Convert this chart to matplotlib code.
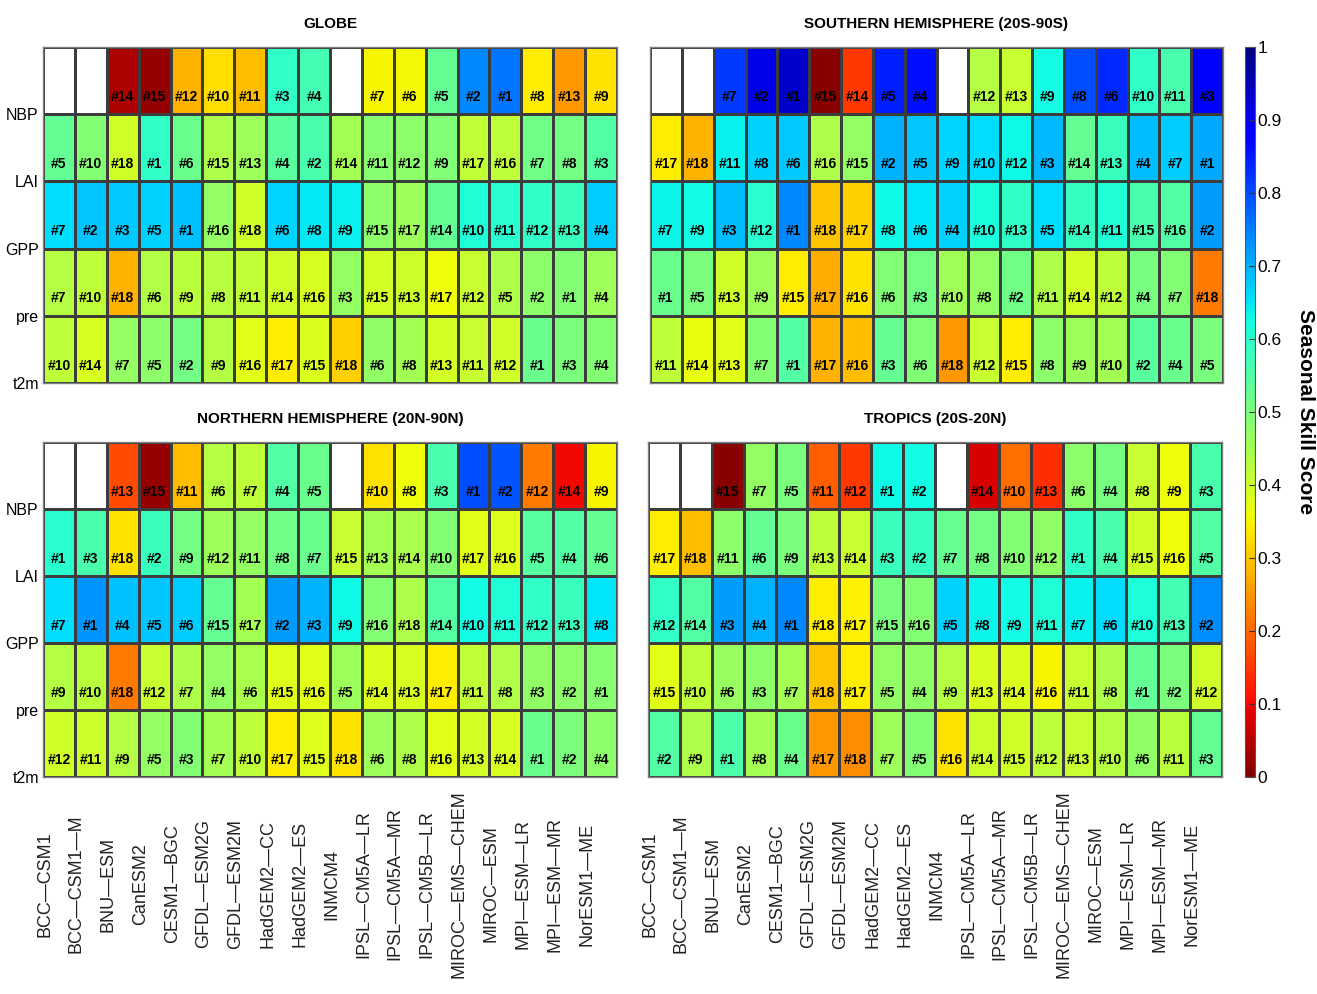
"""Seasonal skill score of CMIP5 ESMs by region and variable"""
import numpy as np
import matplotlib
matplotlib.use("Agg")
import matplotlib.pyplot as plt
from matplotlib.transforms import blended_transform_factory

plt.rcParams["font.family"] = ["Liberation Sans", "DejaVu Sans"]

MODELS = ["BCC-CSM1", "BCC-CSM1-M", "BNU-ESM", "CanESM2", "CESM1-BGC",
          "GFDL-ESM2G", "GFDL-ESM2M", "HadGEM2-CC", "HadGEM2-ES", "INMCM4",
          "IPSL-CM5A-LR", "IPSL-CM5A-MR", "IPSL-CM5B-LR", "MIROC-EMS-CHEM",
          "MIROC-ESM", "MPI-ESM-LR", "MPI-ESM-MR", "NorESM1-ME"]
VARS = ["NBP", "LAI", "GPP", "pre", "t2m"]
REGIONS = ["GLOBE", "SOUTHERN HEMISPHERE (20S-90S)",
           "NORTHERN HEMISPHERE (20N-90N)", "TROPICS (20S-20N)"]
nan = np.nan

# skill scores, rows = VARS, cols = MODELS
globe_score = [
    [nan, nan, .04, .02, .28, .325, .29, .59, .57, nan, .35, .355, .53, .74, .76, .34, .25, .33],
    [.53, .49, .40, .59, .52, .44, .46, .54, .56, .45, .485, .48, .495, .415, .42, .515, .51, .55],
    [.66, .68, .676, .67, .685, .47, .40, .665, .645, .64, .48, .46, .53, .61, .60, .59, .58, .672],
    [.43, .42, .28, .435, .425, .428, .415, .40, .39, .47, .395, .405, .36, .41, .44, .48, .49, .46],
    [.42, .39, .47, .48, .51, .43, .375, .34, .385, .31, .475, .45, .395, .41, .40, .52, .50, .49],
]
globe_rank = [
    [0, 0, 14, 15, 12, 10, 11, 3, 4, 0, 7, 6, 5, 2, 1, 8, 13, 9],
    [5, 10, 18, 1, 6, 15, 13, 4, 2, 14, 11, 12, 9, 17, 16, 7, 8, 3],
    [7, 2, 3, 5, 1, 16, 18, 6, 8, 9, 15, 17, 14, 10, 11, 12, 13, 4],
    [7, 10, 18, 6, 9, 8, 11, 14, 16, 3, 15, 13, 17, 12, 5, 2, 1, 4],
    [10, 14, 7, 5, 2, 9, 16, 17, 15, 18, 6, 8, 13, 11, 12, 1, 3, 4],
]

sh_score = [
    [nan, nan, .82, .91, .93, .01, .15, .845, .86, nan, .43, .41, .625, .80, .835, .59, .56, .89],
    [.34, .28, .64, .67, .676, .44, .47, .70, .68, .665, .66, .63, .695, .53, .58, .69, .672, .71],
    [.635, .628, .69, .60, .74, .30, .31, .63, .65, .67, .62, .59, .66, .585, .61, .56, .55, .72],
    [.52, .50, .40, .46, .34, .27, .33, .495, .51, .455, .47, .515, .44, .395, .42, .505, .49, .22],
    [.42, .37, .375, .49, .55, .28, .29, .53, .495, .25, .41, .34, .48, .46, .45, .54, .52, .50],
]
sh_rank = [
    [0, 0, 7, 2, 1, 15, 14, 5, 4, 0, 12, 13, 9, 8, 6, 10, 11, 3],
    [17, 18, 11, 8, 6, 16, 15, 2, 5, 9, 10, 12, 3, 14, 13, 4, 7, 1],
    [7, 9, 3, 12, 1, 18, 17, 8, 6, 4, 10, 13, 5, 14, 11, 15, 16, 2],
    [1, 5, 13, 9, 15, 17, 16, 6, 3, 10, 8, 2, 11, 14, 12, 4, 7, 18],
    [11, 14, 13, 7, 1, 17, 16, 3, 6, 18, 12, 15, 8, 9, 10, 2, 4, 5],
]

nh_score = [
    [nan, nan, .17, .02, .29, .43, .42, .55, .52, nan, .33, .36, .56, .80, .79, .22, .10, .35],
    [.60, .56, .33, .58, .51, .46, .47, .515, .52, .41, .45, .445, .49, .375, .38, .545, .55, .53],
    [.66, .73, .685, .68, .675, .53, .45, .72, .70, .63, .49, .44, .55, .625, .61, .59, .58, .65],
    [.43, .425, .22, .41, .44, .47, .445, .38, .375, .46, .385, .39, .34, .415, .435, .475, .48, .485],
    [.40, .405, .43, .47, .49, .45, .42, .34, .38, .33, .46, .44, .375, .395, .39, .52, .50, .48],
]
nh_rank = [
    [0, 0, 13, 15, 11, 6, 7, 4, 5, 0, 10, 8, 3, 1, 2, 12, 14, 9],
    [1, 3, 18, 2, 9, 12, 11, 8, 7, 15, 13, 14, 10, 17, 16, 5, 4, 6],
    [7, 1, 4, 5, 6, 15, 17, 2, 3, 9, 16, 18, 14, 10, 11, 12, 13, 8],
    [9, 10, 18, 12, 7, 4, 6, 15, 16, 5, 14, 13, 17, 11, 8, 3, 2, 1],
    [12, 11, 9, 5, 3, 7, 10, 17, 15, 18, 6, 8, 16, 13, 14, 1, 2, 4],
]

tr_score = [
    [nan, nan, .01, .47, .50, .19, .15, .63, .625, nan, .08, .21, .14, .48, .505, .41, .36, .56],
    [.34, .29, .48, .53, .50, .42, .41, .58, .585, .525, .51, .49, .475, .59, .56, .40, .36, .55],
    [.59, .55, .72, .70, .74, .34, .345, .50, .49, .67, .635, .625, .61, .64, .66, .615, .57, .735],
    [.375, .42, .465, .48, .45, .30, .34, .47, .475, .43, .39, .385, .35, .41, .44, .53, .50, .40],
    [.55, .44, .555, .45, .52, .25, .24, .46, .49, .33, .405, .40, .42, .41, .43, .475, .425, .53],
]
tr_rank = [
    [0, 0, 15, 7, 5, 11, 12, 1, 2, 0, 14, 10, 13, 6, 4, 8, 9, 3],
    [17, 18, 11, 6, 9, 13, 14, 3, 2, 7, 8, 10, 12, 1, 4, 15, 16, 5],
    [12, 14, 3, 4, 1, 18, 17, 15, 16, 5, 8, 9, 11, 7, 6, 10, 13, 2],
    [15, 10, 6, 3, 7, 18, 17, 5, 4, 9, 13, 14, 16, 11, 8, 1, 2, 12],
    [2, 9, 1, 8, 4, 17, 18, 7, 5, 16, 14, 15, 12, 13, 10, 6, 11, 3],
]

SCORES = [globe_score, sh_score, nh_score, tr_score]
RANKS = [globe_rank, sh_rank, nh_rank, tr_rank]

W, H = 1317, 994
fig = plt.figure(figsize=(W / 100, H / 100), dpi=100)


def box(x0, y0, x1, y1):
    return [x0 / W, 1 - y1 / H, (x1 - x0) / W, (y1 - y0) / H]


POS = [box(43, 47, 617, 383), box(650, 47, 1223, 383),
       box(43, 442, 617, 777), box(648, 442, 1222, 777)]
cmap = plt.get_cmap("jet_r")

for k, (title, score, rank) in enumerate(zip(REGIONS, SCORES, RANKS)):
    ax = fig.add_axes(POS[k])
    data = np.ma.masked_invalid(np.array(score, dtype=float))
    mesh = ax.pcolormesh(np.arange(len(MODELS) + 1), np.arange(len(VARS) + 1), data,
                         cmap=cmap, vmin=0, vmax=1, edgecolors="#3c3c3c", linewidth=0.9)
    ax.set_facecolor("white")
    ax.set_xlim(0, len(MODELS))
    ax.set_ylim(len(VARS), 0)
    for i in range(len(VARS)):
        for j in range(len(MODELS)):
            if rank[i][j] > 0:
                ax.text(j + 0.5, i + 0.74, f"#{rank[i][j]}", ha="center", va="center",
                        fontsize=10, fontweight="bold", color="black")
    if k % 2 == 0:
        ax.set_yticks(np.arange(1, len(VARS) + 1))
        ax.set_yticklabels(VARS, fontsize=11.5)
    else:
        ax.set_yticks([])
    ax.set_xticks([])
    ax.tick_params(length=0, pad=3)
    for s in ax.spines.values():
        s.set_color("#808080")
        s.set_linewidth(1.0)
    ax.set_title(title, fontsize=11, fontweight="bold", pad=14)
    if k >= 2:
        tr = blended_transform_factory(ax.transData, fig.transFigure)
        for j, name in enumerate(MODELS):
            ax.text(j + 0.05, 1 - 884 / H, name.replace("-", "\u2014"), transform=tr,
                    rotation=90, ha="center", va="center", fontsize=13, color="#222222")

cax = fig.add_axes(box(1245, 47, 1255, 777))
cb = fig.colorbar(mesh, cax=cax, ticks=np.arange(0, 1.01, 0.1))
cb.ax.set_yticklabels(["0", "0.1", "0.2", "0.3", "0.4", "0.5", "0.6", "0.7", "0.8", "0.9", "1"],
                      fontsize=12.5)
cb.ax.tick_params(direction="in", length=4, width=0.8, color="#333333", pad=2)
cb.outline.set_edgecolor("#555555")
cb.set_label("Seasonal Skill Score", rotation=-90, fontsize=15, fontweight="bold",
             labelpad=24)

plt.savefig("out.png", dpi=100)
